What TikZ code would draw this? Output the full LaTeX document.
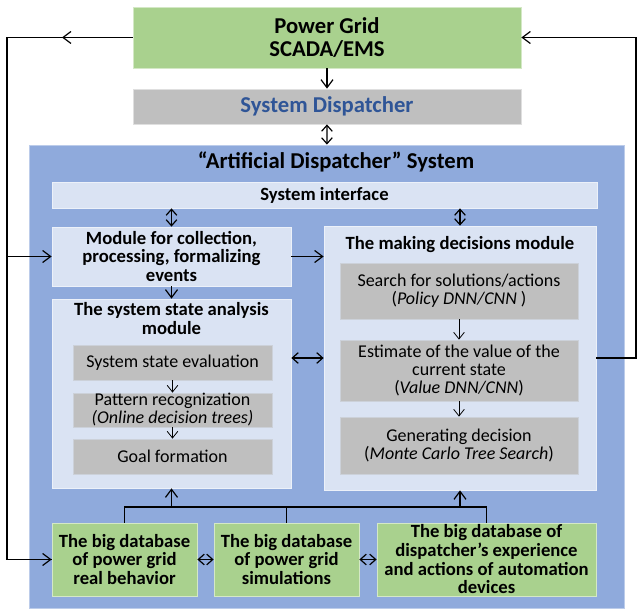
\documentclass[tikz,border=0pt]{standalone}
\usepackage{fontspec}
\setmainfont{Carlito}
\usepackage{xcolor}
\usetikzlibrary{arrows.meta}
\definecolor{grn}{HTML}{A9D18E}
\definecolor{gry}{HTML}{BFBFBF}
\definecolor{lblu}{HTML}{DAE3F3}
\definecolor{blu}{HTML}{8FAADC}
\definecolor{dblu}{HTML}{2F5597}

\begin{document}
\begin{tikzpicture}[x=0.75pt,y=-0.75pt,
    txtbox/.style={inner sep=0pt,align=center,font=\fontsize{14}{14}\selectfont\bfseries},
    grnbox/.style={txtbox,fill=grn,draw=grn!50!white,line width=0.6pt},
    grybox/.style={txtbox,fill=gry,draw=gry!50!lblu,line width=0.6pt,font=\fontsize{13.5}{13.5}\selectfont},
    modbox/.style={txtbox,fill=lblu,draw=lblu!50!white,line width=0.6pt},
    bigfont/.style={font=\fontsize{17}{17.5}\selectfont\bfseries},
    ln/.style={line width=0.9pt},
    arr/.style={ln,-{Straight Barb[length=6pt,width=9pt]}},
    dbl/.style={ln,{Straight Barb[length=4.5pt,width=8pt]}-{Straight Barb[length=4.5pt,width=8pt]}},
    inarr/.style={line width=0.6pt,-{Straight Barb[length=5pt,width=8pt]}}]
    \useasboundingbox (0,0) rectangle (637,610);

    \node[grnbox,bigfont,minimum width=291pt,minimum height=45.75pt] (pg) at (327,37.5) {Power Grid\\SCADA/EMS};
    \node[txtbox,bigfont,fill=gry,draw=gry!50!white,line width=0.6pt,text=dblu,minimum width=291pt,minimum height=26.25pt] (sd) at (327,106.5) {System Dispatcher};
    \node[txtbox,fill=blu,draw=blu!60!white,line width=0.6pt,minimum width=446.25pt,minimum height=347.25pt] (sys) at (326.5,376.5) {};
    \node[txtbox,bigfont] (syst) at (336,162) {``Artificial Dispatcher'' System};
    \node[modbox,minimum width=408.75pt,minimum height=19.5pt] (iface) at (324.5,195) {System interface};

    \node[modbox,minimum width=179.25pt,minimum height=44.25pt] (coll) at (171.5,256.5) {Module for collection,\\processing, formalizing\\events};
    \node[modbox,minimum width=204pt,minimum height=198pt] (dm) at (460,358) {};
    \node[txtbox] (dmt) at (460,245) {The making decisions module};
    \node[grybox,minimum width=178.5pt,minimum height=42pt] (srch) at (459,291) {Search for solutions/actions\\(\textit{Policy DNN/CNN} )};
    \node[grybox,minimum width=178.5pt,minimum height=45.75pt] (est) at (459,370.5) {Estimate of the value of the\\current state\\(\textit{Value DNN/CNN})};
    \node[grybox,minimum width=178.5pt,minimum height=42.75pt] (gen) at (459,445.5) {Generating decision\\(\textit{Monte Carlo Tree Search})};

    \node[modbox,minimum width=179.25pt,minimum height=141.75pt] (ssm) at (171.5,393.5) {};
    \node[txtbox] (ssmt) at (171.5,318.5) {The system state analysis\\module};
    \node[grybox,minimum width=149.25pt,minimum height=26.25pt] (eval) at (172.5,362.5) {System state evaluation};
    \node[grybox,minimum width=149.25pt,minimum height=25.5pt] (patt) at (172.5,410) {Pattern recognization\\\textit{(Online decision trees)}};
    \node[grybox,minimum width=149.25pt,minimum height=26.25pt] (goal) at (172.5,456.5) {Goal formation};

    \node[grnbox,minimum width=108.75pt,minimum height=54.75pt] (db1) at (124.5,559.5) {The big database\\of power grid\\real behavior};
    \node[grnbox,minimum width=108.75pt,minimum height=54.75pt] (db2) at (286.5,559.5) {The big database\\of power grid\\simulations};
    \node[grnbox,minimum width=164.25pt,minimum height=54.75pt] (db3) at (486.5,559.5) {The big database of\\dispatcher's experience\\and actions of automation\\devices};

    \coordinate (ltop) at (7,37.5);
    \coordinate (lmid) at (62,37.5);
    \coordinate (rtop) at (636,37.5);
    \coordinate (bus) at (0,507);

    \draw[arr] (pg) -- (sd);
    \draw[dbl] (sd) -- (sys);
    \draw[dbl] (coll.north |- iface.south) -- (coll.north);
    \draw[dbl] (dm.north |- iface.south) -- (dm.north);
    \draw[arr] (coll.east) -- (coll.east -| dm.west);
    \draw[arr] (coll) -- (ssm);
    \draw[dbl] (dm.west -| ssm.east) -- (dm.west);
    \foreach \a/\b in {srch/est,est/gen,eval/patt,patt/goal}
    \draw[inarr] (\a) -- (\b);
    \foreach \a/\b in {db1/db2,db2/db3}
    \draw[dbl] (\a) -- (\b);

    \draw[ln] (db1.north) -- (db1.north |- bus) -- (db3.north |- bus) -- (db3.north);
    \draw[ln] (db2.north) -- (db2.north |- bus);
    \draw[arr] (ssm.south |- bus) -- (ssm.south);
    \draw[arr] (dm.south |- bus) -- (dm.south);

    \draw[ln] (pg.west) -- (ltop) |- (db1.west);
    \draw[arr] (pg.west) -- (lmid);
    \draw[arr] (ltop |- db1.west) -- (db1.west);
    \draw[arr] (ltop |- coll.west) -- (coll.west);
    \draw[arr] (dm.east) -| (rtop) -- (pg.east);
  \end{tikzpicture}
\end{document}
